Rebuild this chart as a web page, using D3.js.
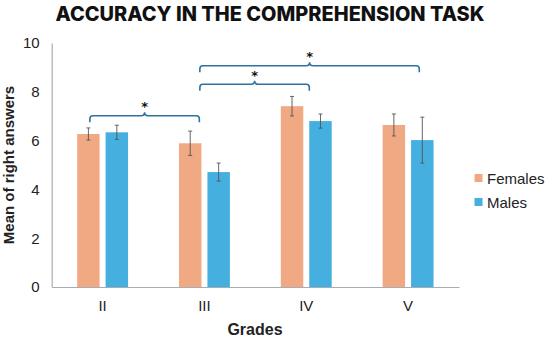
<!DOCTYPE html>
<html>
<head>
<meta charset="utf-8">
<script src="https://cdn.jsdelivr.net/npm/d3@7/dist/d3.min.js"></script>
<style>
  html, body { margin: 0; padding: 0; background: #fff; }
  svg { display: block; }
</style>
</head>
<body>
<svg id="chart" width="550" height="339"></svg>
<script>
// ---- Data ----
const grades = ["II", "III", "IV", "V"];
const seriesNames = ["Females", "Males"];
const femalesMean = [6.27, 5.89, 7.41, 6.64];
const malesMean   = [6.34, 4.71, 6.80, 6.02];
const femalesErr  = [0.25, 0.50, 0.40, 0.45];
const malesErr    = [0.29, 0.37, 0.29, 0.94];
const yTicks = [0, 2, 4, 6, 8, 10];
// significance brackets: category index span and height (data units)
const bracketFrom  = [-0.125, 0.955, 0.955];
const bracketTo    = [0.95, 2.03, 3.11];
const bracketLevel = [7.02, 8.31, 9.07];
const bracketLabel = ["*", "*", "*"];

const colors = { Females: "#F1A983", Males: "#45AFE0" };

// ---- Layout ----
const svg = d3.select("#chart");
const left = 51.7, right = 459, yBottom = 287, yTop = 43;

const x = d3.scaleBand().domain(grades).range([left, right]).padding(0);
const bw = x.bandwidth();
const xInner = d3.scaleBand().domain(seriesNames)
  .range([bw * 0.25, bw * 0.75]).paddingInner(0.21).paddingOuter(0);
const xIdx = d3.scaleLinear().domain([0, grades.length - 1])
  .range([x(grades[0]) + bw / 2, x(grades[grades.length - 1]) + bw / 2]);
const y = d3.scaleLinear().domain([0, 10]).range([yBottom, yTop]);

const rows = [];
grades.forEach((g, i) => {
  rows.push({ g, s: "Females", v: femalesMean[i], e: femalesErr[i] });
  rows.push({ g, s: "Males", v: malesMean[i], e: malesErr[i] });
});

// Title
svg.append("text")
  .attr("x", 270).attr("y", 21)
  .attr("text-anchor", "middle")
  .attr("font-family", "Inter, 'Liberation Sans', sans-serif")
  .attr("font-weight", 800)
  .attr("font-size", 20)
  .attr("textLength", 429)
  .attr("lengthAdjust", "spacingAndGlyphs")
  .attr("fill", "#111")
  .text("ACCURACY IN THE COMPREHENSION TASK");

// Bars
svg.append("g").selectAll("rect").data(rows).join("rect")
  .attr("x", d => x(d.g) + xInner(d.s))
  .attr("width", xInner.bandwidth())
  .attr("y", d => y(d.v))
  .attr("height", d => y(0) - y(d.v))
  .attr("fill", d => colors[d.s]);

// Error bars
const eg = svg.append("g").attr("stroke", "#555").attr("stroke-width", 0.9);
rows.forEach(d => {
  const cx = x(d.g) + xInner(d.s) + xInner.bandwidth() / 2;
  eg.append("line").attr("x1", cx).attr("x2", cx).attr("y1", y(d.v + d.e)).attr("y2", y(d.v - d.e));
  eg.append("line").attr("x1", cx - 2).attr("x2", cx + 2).attr("y1", y(d.v + d.e)).attr("y2", y(d.v + d.e));
  eg.append("line").attr("x1", cx - 2).attr("x2", cx + 2).attr("y1", y(d.v - d.e)).attr("y2", y(d.v - d.e));
});

// Axes
const yAxis = d3.axisLeft(y).tickValues(yTicks).tickSize(0).tickPadding(12).tickFormat(d3.format("d"));
const gy = svg.append("g").attr("transform", `translate(${left},0)`).call(yAxis);
gy.select(".domain").attr("stroke", "#A7ADB3").attr("stroke-width", 1.2);
gy.selectAll("text").attr("font-family", "'Liberation Sans', Arial, sans-serif").attr("font-size", 15).attr("fill", "#222");

const xAxis = d3.axisBottom(x).tickSize(0).tickPadding(13);
const gx = svg.append("g").attr("transform", `translate(0,${yBottom})`).call(xAxis);
gx.select(".domain").attr("stroke", "#A7ADB3").attr("stroke-width", 1.2);
gx.selectAll("text").attr("font-family", "'Liberation Sans', Arial, sans-serif").attr("font-size", 15).attr("fill", "#222");

// Axis titles
svg.append("text")
  .attr("x", 255).attr("y", 335)
  .attr("text-anchor", "middle")
  .attr("font-family", "'Liberation Sans', Arial, sans-serif")
  .attr("font-weight", "bold").attr("font-size", 16).attr("fill", "#222")
  .text("Grades");
svg.append("text")
  .attr("transform", "translate(14,165) rotate(-90)")
  .attr("text-anchor", "middle")
  .attr("font-family", "'Liberation Sans', Arial, sans-serif")
  .attr("font-weight", "bold").attr("font-size", 15).attr("fill", "#222")
  .text("Mean of right answers");

// Brackets
const bg = svg.append("g");
bracketLevel.forEach((lv, i) => {
  const x1 = xIdx(bracketFrom[i]), x2 = xIdx(bracketTo[i]);
  const yy = y(lv), mid = (x1 + x2) / 2, r = 3, drop = 6.5, notch = 3.5;
  const p = `M${x1},${yy + drop} L${x1},${yy + r} Q${x1},${yy} ${x1 + r},${yy}`
    + ` L${mid - notch},${yy} Q${mid},${yy} ${mid},${yy - notch} Q${mid},${yy} ${mid + notch},${yy}`
    + ` L${x2 - r},${yy} Q${x2},${yy} ${x2},${yy + r} L${x2},${yy + drop}`;
  bg.append("path").attr("d", p).attr("fill", "none")
    .attr("stroke", "#2F729F").attr("stroke-width", 1.6);
  bg.append("text").attr("x", mid).attr("y", yy - 4.5)
    .attr("text-anchor", "middle")
    .attr("font-family", "'DejaVu Sans', sans-serif")
    .attr("font-weight", "bold")
    .attr("font-size", 13).attr("fill", "#111")
    .text(bracketLabel[i]);
});

// Legend
const lg = svg.append("g");
seriesNames.forEach((s, i) => {
  const ly = 178 + i * 24;
  lg.append("rect").attr("x", 474.5).attr("y", ly - 4).attr("width", 8).attr("height", 8).attr("fill", colors[s]);
  lg.append("text").attr("x", 487).attr("y", ly + 5.5)
    .attr("font-family", "'Liberation Sans', Arial, sans-serif")
    .attr("font-size", 15).attr("fill", "#222")
    .text(s);
});
</script>
</body>
</html>
